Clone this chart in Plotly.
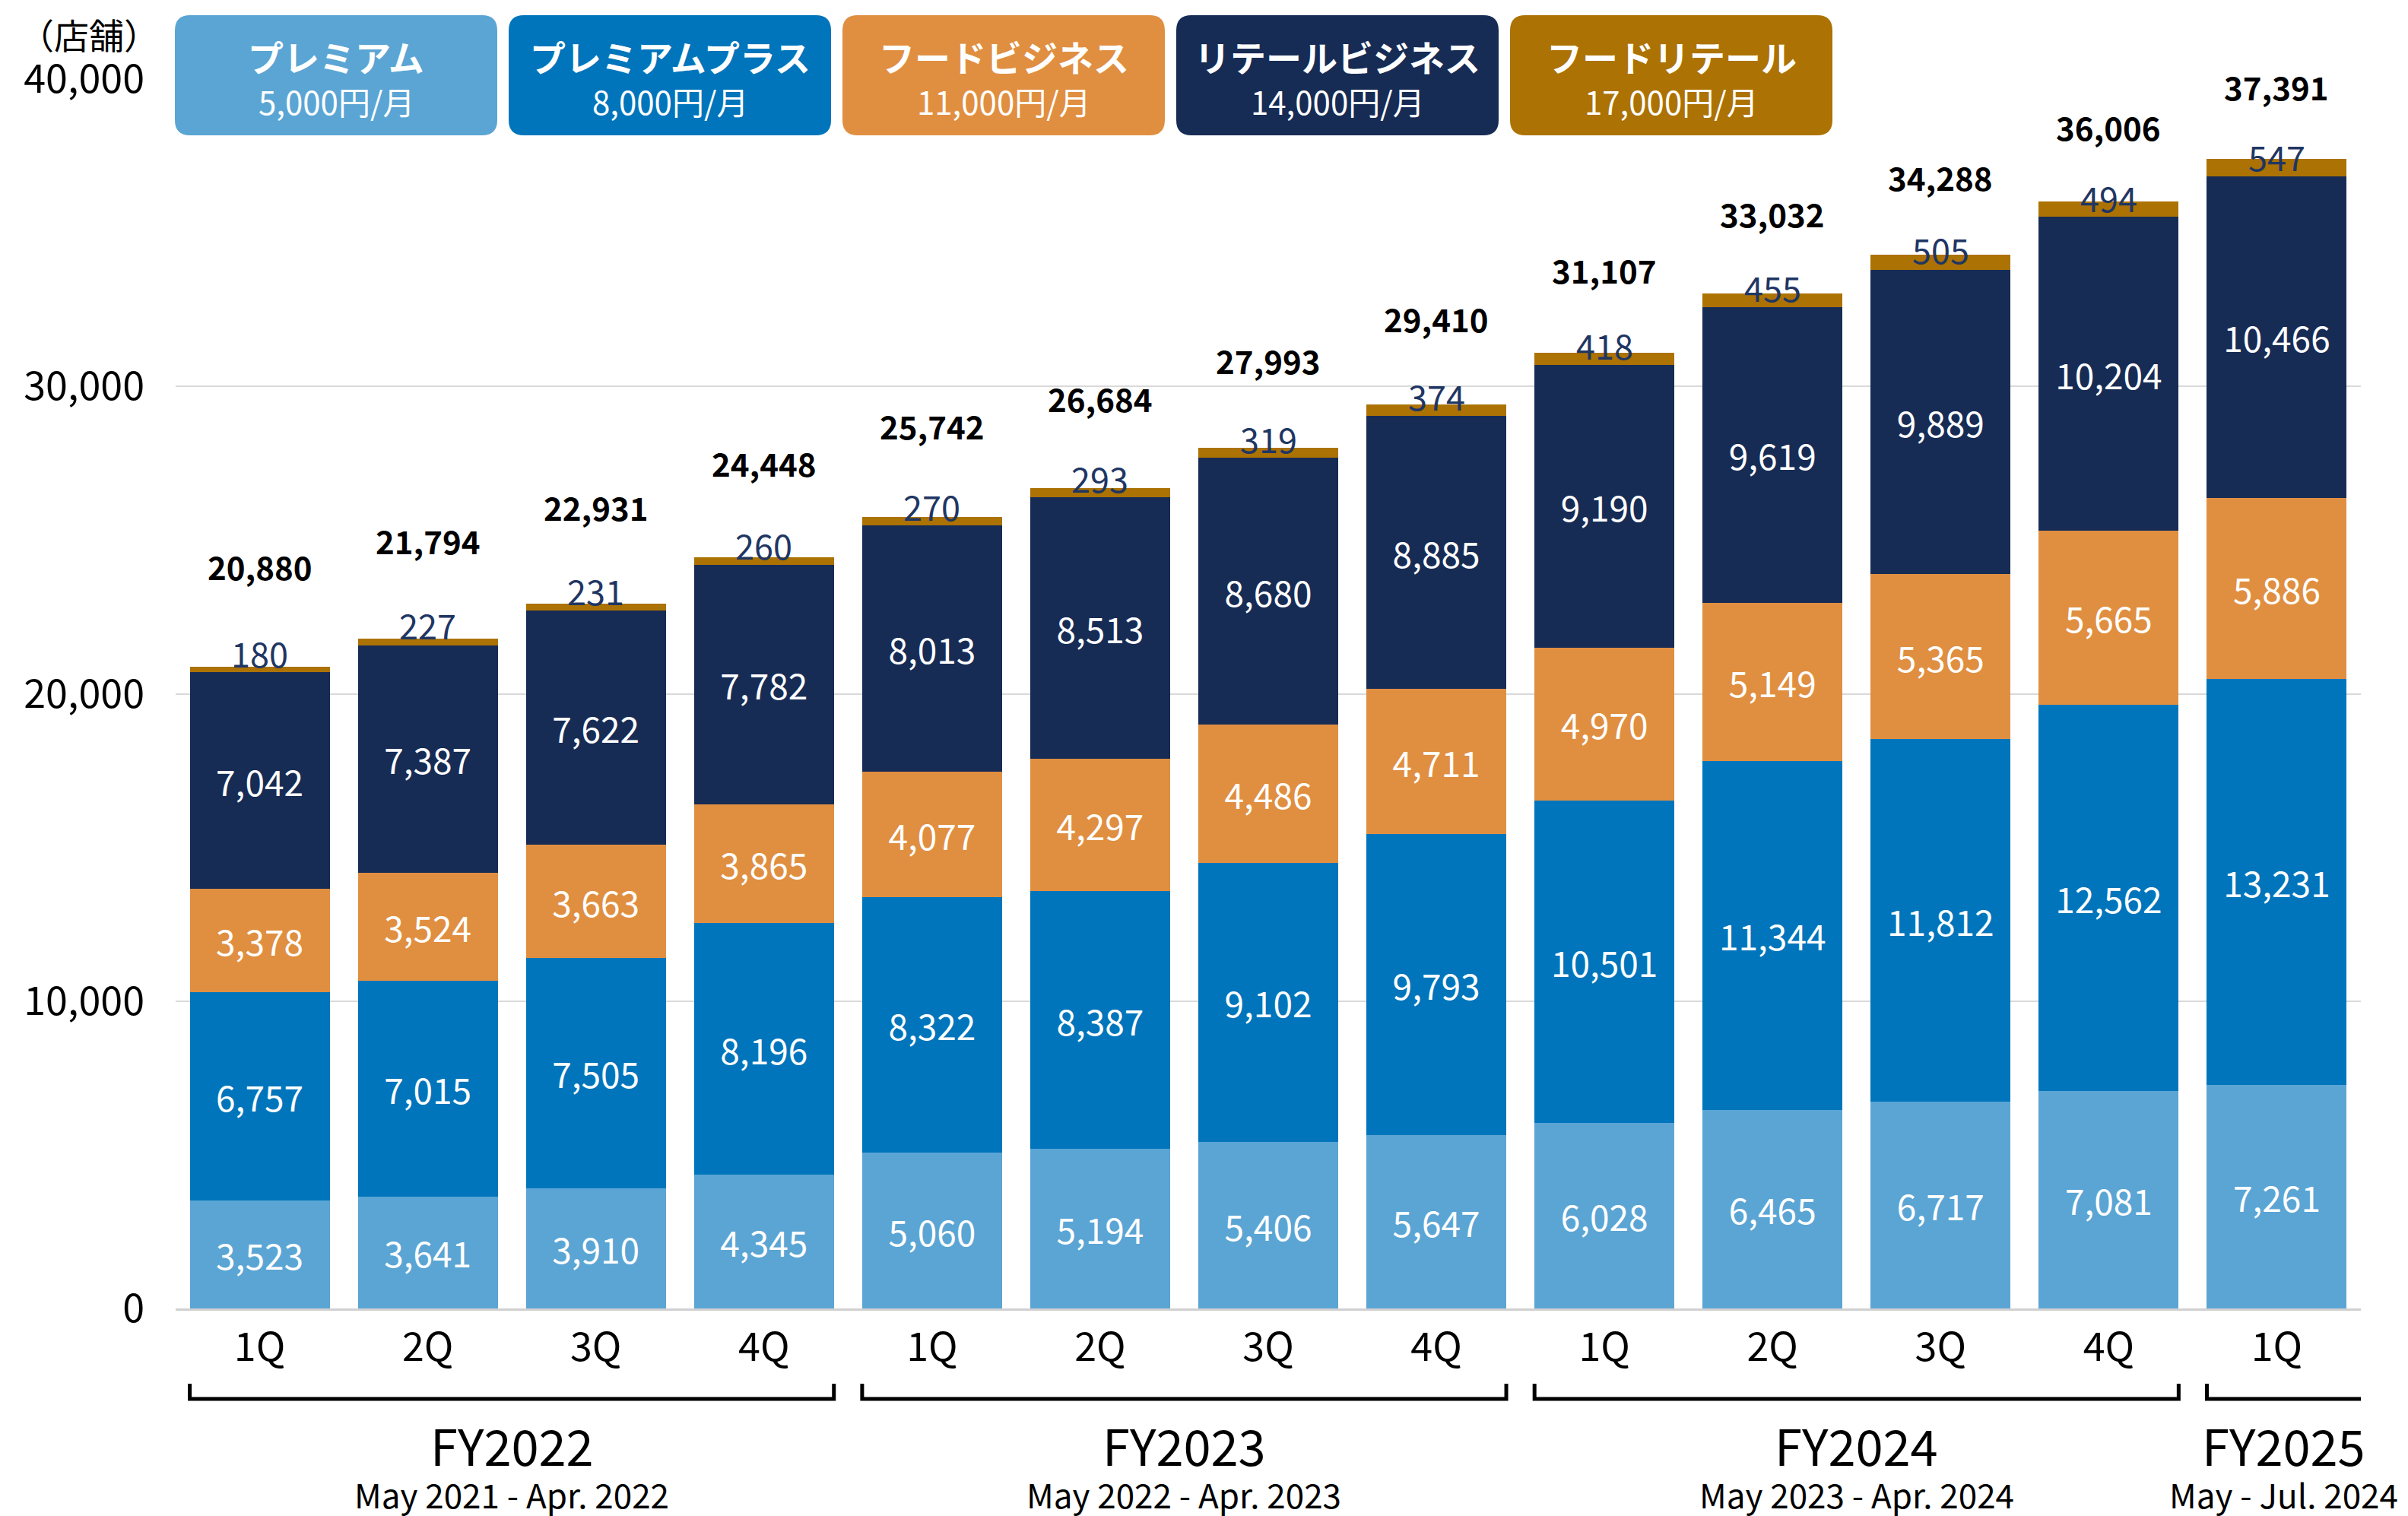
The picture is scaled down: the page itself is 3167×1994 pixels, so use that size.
import plotly.graph_objects as go

# ---- data -------------------------------------------------------------
quarters = ["1Q", "2Q", "3Q", "4Q", "1Q", "2Q", "3Q", "4Q", "1Q", "2Q", "3Q", "4Q", "1Q"]

premium = [3523, 3641, 3910, 4345, 5060, 5194, 5406, 5647, 6028, 6465, 6717, 7081, 7261]
premium_plus = [6757, 7015, 7505, 8196, 8322, 8387, 9102, 9793, 10501, 11344, 11812, 12562, 13231]
food_business = [3378, 3524, 3663, 3865, 4077, 4297, 4486, 4711, 4970, 5149, 5365, 5665, 5886]
retail_business = [7042, 7387, 7622, 7782, 8013, 8513, 8680, 8885, 9190, 9619, 9889, 10204, 10466]
food_retail = [180, 227, 231, 260, 270, 293, 319, 374, 418, 455, 505, 494, 547]

plan_names = ["プレミアム", "プレミアムプラス", "フードビジネス", "リテールビジネス", "フードリテール"]
plan_prices = ["5,000円/月", "8,000円/月", "11,000円/月", "14,000円/月", "17,000円/月"]
plan_colors = ["#5ba5d4", "#0075bb", "#e08f41", "#172c55", "#ac7203"]

fiscal_years = ["FY2022", "FY2023", "FY2024", "FY2025"]
fiscal_periods = ["May 2021 - Apr. 2022", "May 2022 - Apr. 2023",
                  "May 2023 - Apr. 2024", "May - Jul. 2024"]
fy_first = [0, 4, 8, 12]
fy_last = [3, 7, 11, 12]

series = [premium, premium_plus, food_business, retail_business, food_retail]
idx = list(range(len(quarters)))
totals = [sum(v) for v in zip(*series)]

# ---- layout constants --------------------------------------------------
FONT = "Noto Sans CJK JP"
W, H = 3167, 1994
L, R, T, B = 231, 62, 104, 273
PW, PH = W - L - R, H - T - B
BARGAP = 0.168
BAR_W = 1 - BARGAP
LABEL_NAVY = "#1f3663"


def paper_x(p):
    return (p - L) / PW


def paper_y(p):
    return (H - B - p) / PH


fig = go.Figure()

for i, vals in enumerate(series):
    show_text = i < 4
    fig.add_trace(go.Bar(
        x=idx, y=vals, name=plan_names[i],
        marker=dict(color=plan_colors[i], line=dict(width=0)),
        text=[f"{v:,}" for v in vals] if show_text else None,
        textposition="inside" if show_text else "none",
        insidetextanchor="middle",
        textangle=0,
        constraintext="none",
        textfont=dict(family=FONT, size=46, color="white"),
        hoverinfo="skip",
    ))

annotations = []
shapes = []

# totals above each stack (placed on their own hidden scale)
for i, t in enumerate(totals):
    annotations.append(dict(
        x=i, y=t, xref="x", yref="y2", text=f"{t:,}", showarrow=False,
        yanchor="middle", font=dict(family=FONT, size=42, color="black", weight=700)))

# フードリテール values just above the thin top segment
for i, (t, v) in enumerate(zip(totals, food_retail)):
    annotations.append(dict(
        x=i, y=t, xref="x", yref="y3", text=f"{v:,}", showarrow=False,
        yanchor="middle", font=dict(family=FONT, size=45, color=LABEL_NAVY)))

# unit label
annotations.append(dict(
    x=paper_x(117), y=paper_y(44), xref="paper", yref="paper", text="（店舗）",
    showarrow=False, xanchor="center", yanchor="middle",
    font=dict(family=FONT, size=46, color="black")))

# plan boxes along the top
box_w, box_pitch, box_top, box_bot, rad = 424, 439, 20, 178, 20
for i, (name, price, col) in enumerate(zip(plan_names, plan_prices, plan_colors)):
    x0p = 230 + i * box_pitch
    x1p = x0p + box_w
    x0, x1 = paper_x(x0p), paper_x(x1p)
    yt, yb = paper_y(box_top), paper_y(box_bot)
    rx, ry = rad / PW, rad / PH
    path = (f"M {x0 + rx},{yt} L {x1 - rx},{yt} Q {x1},{yt} {x1},{yt - ry} "
            f"L {x1},{yb + ry} Q {x1},{yb} {x1 - rx},{yb} "
            f"L {x0 + rx},{yb} Q {x0},{yb} {x0},{yb + ry} "
            f"L {x0},{yt - ry} Q {x0},{yt} {x0 + rx},{yt} Z")
    shapes.append(dict(type="path", path=path, xref="paper", yref="paper",
                       fillcolor=col, line=dict(width=0), layer="above"))
    cx = paper_x((x0p + x1p) / 2)
    annotations.append(dict(
        x=cx, y=paper_y(74), xref="paper", yref="paper", text=name, showarrow=False,
        xanchor="center", yanchor="middle",
        font=dict(family=FONT, size=47, color="white", weight=700)))
    annotations.append(dict(
        x=cx, y=paper_y(133), xref="paper", yref="paper", text=price, showarrow=False,
        xanchor="center", yanchor="middle",
        font=dict(family=FONT, size=42, color="white")))

# fiscal-year brackets under the quarter labels
br_top, br_bot = paper_y(1820), paper_y(1840)
for k, (a, b) in enumerate(zip(fy_first, fy_last)):
    xa = a - BAR_W / 2
    if k == len(fy_first) - 1:
        xb = len(quarters) - 0.5
        path = f"M {xa},{br_top} L {xa},{br_bot} L {xb},{br_bot}"
    else:
        xb = b + BAR_W / 2
        path = f"M {xa},{br_top} L {xa},{br_bot} L {xb},{br_bot} L {xb},{br_top}"
    shapes.append(dict(type="path", path=path, xref="x", yref="paper",
                       line=dict(color="black", width=5)))
    xc = (xa + xb) / 2
    annotations.append(dict(
        x=xc, y=paper_y(1900), xref="x", yref="paper", text=fiscal_years[k],
        showarrow=False, xanchor="center", yanchor="middle",
        font=dict(family=FONT, size=65, color="black")))
    annotations.append(dict(
        x=xc, y=paper_y(1965), xref="x", yref="paper", text=fiscal_periods[k],
        showarrow=False, xanchor="center", yanchor="middle",
        font=dict(family=FONT, size=44, color="black")))

fig.update_layout(
    width=W, height=H,
    margin=dict(l=L, r=R, t=T, b=B, pad=0),
    barmode="stack", bargap=BARGAP,
    showlegend=False,
    plot_bgcolor="white", paper_bgcolor="white",
    font=dict(family=FONT, color="black"),
    xaxis=dict(
        range=[-0.5, len(quarters) - 0.5],
        tickmode="array", tickvals=idx, ticktext=quarters,
        tickfont=dict(family=FONT, size=52, color="black"),
        showgrid=False, zeroline=False,
        showline=True, linecolor="#d0d0d0", linewidth=3,
        ticks="", ticklabelstandoff=4,
    ),
    yaxis=dict(
        range=[0, 40000], tickmode="array",
        tickvals=[0, 10000, 20000, 30000, 40000], tickformat=",",
        tickfont=dict(family=FONT, size=52, color="black"),
        showgrid=True, gridcolor="#d9d9d9", gridwidth=2,
        zeroline=False, showline=False, ticks="", ticklabelstandoff=40,
    ),
    # hidden scales used only to place the value labels above the stacks
    yaxis2=dict(overlaying="y", range=[-4657, 37651], visible=False),
    yaxis3=dict(overlaying="y", range=[-940, 39945], visible=False),
    annotations=annotations,
    shapes=shapes,
)

fig.write_html("out.html")
